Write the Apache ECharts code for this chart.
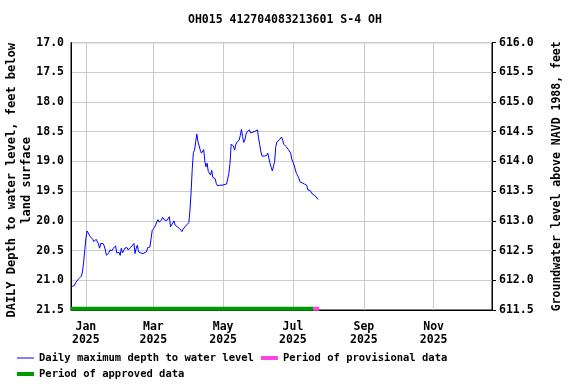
<!DOCTYPE html>
<html><head><meta charset="utf-8">
<script src="https://cdn.jsdelivr.net/npm/echarts@6/dist/echarts.min.js"></script>
<style>html,body{margin:0;padding:0;background:#fff}#c{width:576px;height:384px}</style>
</head><body><div id="c"></div>
<script>
const chartTitle = 'OH015 412704083213601 S-4 OH';
// [day offset from 2025-01-01, daily maximum depth to water (ft below land surface)]
const depthObs = [
[-12,21.10],[-10,21.09],[-9,21.04],[-8,21.01],[-6,20.97],[-4,20.93],[-3,20.86],[-2,20.70],[-1,20.50],[0,20.30],
[1,20.17],[2,20.20],[4,20.27],[6,20.31],[7,20.35],[8,20.32],[9,20.31],[10,20.32],[11,20.39],[12,20.46],
[13,20.38],[15,20.38],[16,20.42],[17,20.49],[18,20.58],[20,20.54],[21,20.49],[23,20.50],[24,20.46],[26,20.42],
[27,20.54],[29,20.53],[30,20.58],[31,20.46],[32,20.54],[34,20.46],[35,20.49],[36,20.45],[37,20.49],[39,20.45],
[40,20.42],[42,20.38],[43,20.55],[44,20.46],[45,20.41],[46,20.52],[48,20.54],[50,20.55],[51,20.58],[53,20.52],
[54,20.45],[56,20.44],[57,20.30],[58,20.16],[60,20.11],[61,20.07],[62,20.02],[63,19.98],[64,20.02],[66,19.99],
[67,19.94],[69,19.99],[70,20.00],[71,19.99],[73,19.93],[74,20.10],[75,20.07],[77,20.00],[78,20.07],[80,20.10],
[81,20.07],[82,20.13],[84,20.18],[85,20.14],[87,20.09],[88,20.07],[90,20.03],[91,19.82],[92,19.51],[93,19.12],
[94,18.85],[95,18.81],[96,18.67],[97,18.54],[98,18.67],[99,18.74],[100,18.81],[101,18.86],[102,18.84],[103,18.80],
[104,19.00],[105,19.09],[106,19.03],[107,19.17],[109,19.23],[110,19.15],[111,19.27],[113,19.29],[114,19.37],[115,19.41],
[116,19.43],[117,19.40],[118,19.37],[119,19.40],[120,19.37],[123,19.38],[124,19.36],[125,19.20],[126,19.03],[127,18.71],
[129,18.74],[130,18.81],[131,18.72],[132,18.68],[134,18.64],[135,18.56],[136,18.46],[137,18.58],[138,18.68],[139,18.64],
[140,18.54],[141,18.50],[143,18.47],[144,18.52],[145,18.54],[147,18.50],[148,18.52],[150,18.47],[151,18.61],[152,18.72],
[153,18.84],[154,18.91],[156,18.91],[158,18.90],[159,18.86],[160,18.95],[161,19.03],[162,19.10],[163,19.16],[164,19.17],
[165,19.00],[166,18.75],[167,18.67],[169,18.64],[170,18.65],[171,18.59],[172,18.64],[173,18.71],[175,18.75],[177,18.80],
[179,18.86],[180,18.96],[182,19.06],[184,19.20],[186,19.27],[187,19.34],[189,19.36],[191,19.38],[193,19.40],[194,19.48],
[196,19.49],[198,19.55],[200,19.57],[201,19.58],[203,19.64]
];
const approvedPeriod = [-13, 199];
const provisionalPeriod = [199, 204];
const axisDays = [-13, 355];
const monthTicks = [0, 59, 120, 181, 243, 304];
const monthNames = ['Jan','Feb','Mar','Apr','May','Jun','Jul','Aug','Sep','Oct','Nov','Dec'];
const depthRange = [17.0, 21.5];
const elevRange = [611.5, 616.0];
const barDepth = 21.48;

const DAY = 86400000, T0 = Date.UTC(2025, 0, 1);
const t = d => T0 + d * DAY;
const FONT = 'DejaVu Sans Mono';
const txt = (s) => ({fontFamily: FONT, fontWeight: 'bold', fontSize: s, color: '#000'});
const S1 = 'Daily maximum depth to water level', S2 = 'Period of approved data', S3 = 'Period of provisional data';

const chart = echarts.init(document.getElementById('c'), null, {renderer: 'canvas'});
chart.setOption({
  animation: false,
  backgroundColor: '#fff',
  title: {text: chartTitle, left: 183, top: 9, textStyle: txt(11.5)},
  grid: {left: 71, right: 84, top: 42.6, bottom: 74, containLabel: false, outerBoundsMode: 'none',
    show: true, borderColor: '#000', borderWidth: 1, backgroundColor: 'transparent'},
  xAxis: {
    type: 'value', min: t(axisDays[0]), max: t(axisDays[1]),
    axisLine: {show: true, lineStyle: {color: '#000', width: 1}},
    axisTick: {show: false, customValues: monthTicks.map(t)},
    axisLabel: Object.assign({customValues: monthTicks.map(t), margin: 11, lineHeight: 13,
      formatter: v => { const d = new Date(v); return monthNames[d.getUTCMonth()] + '\n' + d.getUTCFullYear(); }}, txt(11.5)),
    splitLine: {show: true, lineStyle: {color: '#cccccc', width: 1}}
  },
  yAxis: [{
    type: 'value', inverse: true, min: depthRange[0], max: depthRange[1], interval: 0.5, position: 'left',
    axisLine: {show: true, lineStyle: {color: '#000'}},
    axisTick: {show: false},
    axisLabel: Object.assign({margin: 7, formatter: v => v.toFixed(1)}, txt(11.5)),
    splitLine: {show: true, lineStyle: {color: '#cccccc', width: 1}},
    name: 'DAILY Depth to water level, feet below\nland surface', nameLocation: 'middle', nameGap: 37, nameRotate: 90,
    nameMoveOverlap: false,
    nameTextStyle: Object.assign({lineHeight: 15, padding: [0, 8, 0, 0]}, txt(12))
  }, {
    type: 'value', min: elevRange[0], max: elevRange[1], interval: 0.5, position: 'right',
    axisLine: {show: true, lineStyle: {color: '#000'}},
    axisTick: {show: true, inside: false, length: 4, lineStyle: {color: '#000'}},
    axisLabel: Object.assign({margin: 7, formatter: v => v.toFixed(1)}, txt(11.5)),
    splitLine: {show: false},
    name: 'Groundwater level above NAVD 1988, feet', nameLocation: 'middle', nameGap: 59, nameRotate: 90,
    nameMoveOverlap: false,
    nameTextStyle: txt(11.5)
  }],
  legend: [{
    left: 17, top: 352.5, itemWidth: 17, itemHeight: 4, itemGap: 7, padding: 0, symbolKeepAspect: true,
    data: [{name: S1, icon: 'path://M0,0H17V1H0Z'}, {name: S3, icon: 'rect'}], textStyle: txt(10.5)
  }, {
    left: 17, top: 368.5, itemWidth: 17, itemHeight: 4, itemGap: 7, padding: 0,
    data: [{name: S2, icon: 'rect'}], textStyle: txt(10.5)
  }],
  series: [{
    name: S1, type: 'line', yAxisIndex: 0, symbol: 'none',
    lineStyle: {color: '#0000ff', width: 1}, itemStyle: {color: '#0000ff'},
    data: depthObs.map(p => [t(p[0]), p[1]])
  }, {
    name: S2, type: 'line', yAxisIndex: 0, symbol: 'none',
    lineStyle: {color: '#009900', width: 4}, itemStyle: {color: '#009900'},
    data: approvedPeriod.map(d => [t(d), barDepth])
  }, {
    name: S3, type: 'line', yAxisIndex: 0, symbol: 'none',
    lineStyle: {color: '#ff44dd', width: 4}, itemStyle: {color: '#ff44dd'},
    data: provisionalPeriod.map(d => [t(d), barDepth])
  }]
});
</script></body></html>
